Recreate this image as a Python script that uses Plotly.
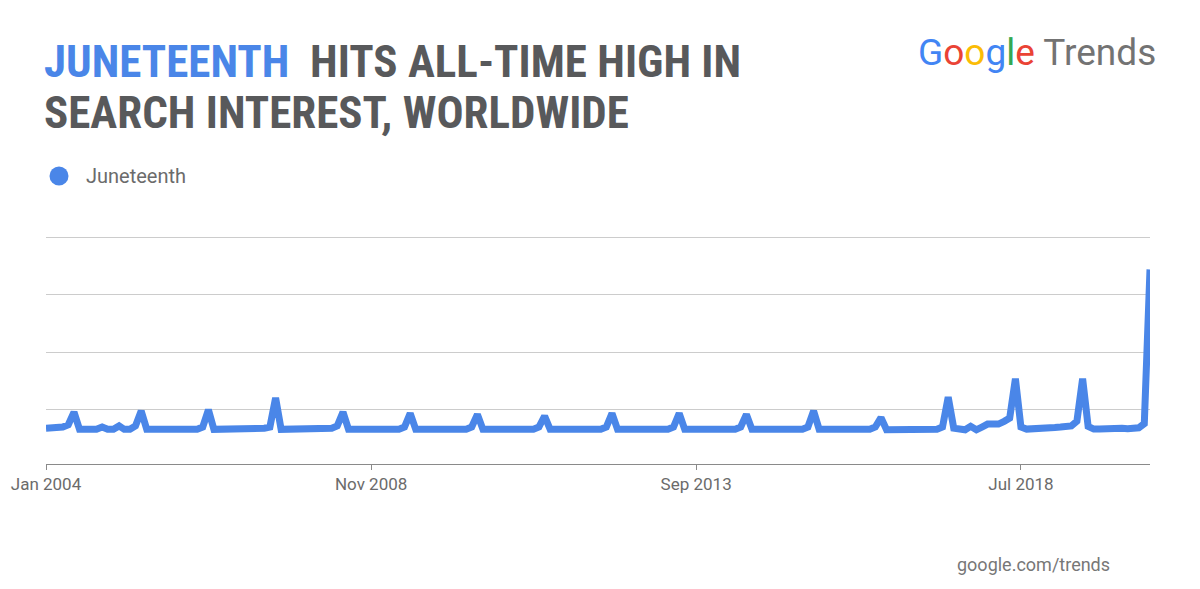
import pandas as pd
import plotly.graph_objects as go

# ---------------- data ----------------
start_month = "2004-01-01"
interest_2004 = [17, 17, 17, 17.5, 18.5, 24, 16.5, 16.5, 16.5, 16.5, 17.5, 16.5]
interest_2005 = [16.5, 18, 16.5, 16.5, 18, 24.5, 16.5, 16.5, 16.5, 16.5, 16.5, 16.5]
interest_2006 = [16.5, 16.5, 16.5, 16.5, 17.5, 25, 16.5, 16.5, 16.5, 16.5, 16.5, 16.5]
interest_2007 = [16.5, 16.5, 16.5, 17, 17.5, 30.2, 16.5, 16.5, 16.5, 16.5, 16.5, 16.5]
interest_2008 = [16.5, 17, 17, 17, 18, 24, 16.5, 16.5, 16.5, 16.5, 16.5, 16.5]
interest_2009 = [16.5, 16.5, 16.5, 16.5, 17.5, 23.4, 16.5, 16.5, 16.5, 16.5, 16.5, 16.5]
interest_2010 = [16.5, 16.5, 16.5, 16.5, 17.5, 23, 16.5, 16.5, 16.5, 16.5, 16.5, 16.5]
interest_2011 = [16.5, 16.5, 16.5, 16.5, 17.5, 22.3, 16.5, 16.5, 16.5, 16.5, 16.5, 16.5]
interest_2012 = [16.5, 16.5, 16.5, 16.5, 17.5, 23.4, 16.5, 16.5, 16.5, 16.5, 16.5, 16.5]
interest_2013 = [16.5, 16.5, 16.5, 16.5, 17.5, 23.4, 16.5, 16.5, 16.5, 16.5, 16.5, 16.5]
interest_2014 = [16.5, 16.5, 16.5, 16.5, 17.5, 23, 16.5, 16.5, 16.5, 16.5, 16.5, 16.5]
interest_2015 = [16.5, 16.5, 16.5, 16.5, 17.5, 24.5, 16.5, 16.5, 16.5, 16.5, 16.5, 16.5]
interest_2016 = [16.5, 16.5, 16.5, 16.5, 17.5, 21.6, 16.3, 16.3, 16.5, 16.5, 16.5, 16.5]
interest_2017 = [16.5, 16.5, 16.5, 16.5, 17.5, 30.5, 17, 16.3, 16.3, 17.8, 16.3, 17.5]
interest_2018 = [18.8, 18.8, 18.8, 20, 21.4, 38.5, 17.5, 16.6, 16.6, 16.8, 17, 17.2]
interest_2019 = [17.3, 17.5, 18, 18, 20, 38.5, 17.8, 16.6, 16.6, 16.8, 17, 17.2]
interest_2020 = [17, 16.8, 17.2, 17.2, 19, 86]

tick_dates = ["2004-01-01", "2008-11-01", "2013-09-01", "2018-07-01"]
tick_labels = ["Jan 2004", "Nov 2008", "Sep 2013", "Jul 2018"]
grid_values = [25, 50, 75, 100]
series_name = "Juneteenth"

interest = (interest_2004 + interest_2005 + interest_2006 + interest_2007 + interest_2008
            + interest_2009 + interest_2010 + interest_2011 + interest_2012 + interest_2013
            + interest_2014 + interest_2015 + interest_2016 + interest_2017 + interest_2018
            + interest_2019 + interest_2020)
months = pd.date_range(start_month, periods=len(interest), freq="MS")

# ---------------- layout constants ----------------
OFF = 8                     # default page body margin
W, H = 1200 - OFF, 589 - OFF
L, R, T, B = 46 - OFF, 50, 235 - OFF, 125
PW, PH = W - L - R, H - T - B

BLUE = "#4a86e8"
TITLE_GRAY = "#58595b"
TEXT_GRAY = "#6b6b6b"


def px_x(px):
    return (px - OFF - L) / PW


def px_y(py):
    return (H - B - (py - OFF)) / PH


fig = go.Figure()
fig.add_trace(go.Scatter(
    x=months, y=interest, mode="lines", name=series_name,
    line=dict(color=BLUE, width=7), showlegend=False, hoverinfo="skip",
))

title_font = "Roboto Condensed, Liberation Sans Narrow, DejaVu Sans Condensed, Roboto"

annotations = [
    dict(text=f"<b><span style='color:{BLUE}'>JUNETEENTH</span>&nbsp;&nbsp;HITS ALL-TIME HIGH IN</b>",
         x=px_x(42), y=px_y(61.5), xanchor="left", yanchor="middle",
         font=dict(family=title_font, size=45, color=TITLE_GRAY)),
    dict(text="<b>SEARCH INTEREST, WORLDWIDE</b>",
         x=px_x(42), y=px_y(112.5), xanchor="left", yanchor="middle",
         font=dict(family=title_font, size=45, color=TITLE_GRAY)),
    dict(text=series_name,
         x=px_x(84), y=px_y(176), xanchor="left", yanchor="middle",
         font=dict(family="Roboto", size=20, color=TEXT_GRAY)),
    dict(text=("<span style='color:#4285f4'>G</span><span style='color:#ea4335'>o</span>"
               "<span style='color:#fbbc05'>o</span><span style='color:#4285f4'>g</span>"
               "<span style='color:#34a853'>l</span><span style='color:#ea4335'>e</span>"
               " <span style='color:#737373'>Trends</span>"),
         x=px_x(1158), y=px_y(52), xanchor="right", yanchor="middle",
         font=dict(family="Roboto", size=37, color="#737373")),
    dict(text="google.com/trends",
         x=px_x(1112), y=px_y(564), xanchor="right", yanchor="middle",
         font=dict(family="Roboto", size=18, color="#777777")),
]
for a in annotations:
    a.update(xref="paper", yref="paper", showarrow=False)

fig.update_layout(
    width=W, height=H,
    margin=dict(l=L, r=R, t=T, b=B, pad=0, autoexpand=False),
    paper_bgcolor="white", plot_bgcolor="white",
    annotations=annotations,
    shapes=[dict(type="circle", xref="paper", yref="paper",
                 x0=px_x(49.5), x1=px_x(68.5), y0=px_y(185.5), y1=px_y(166.5),
                 fillcolor=BLUE, line=dict(width=0))],
    xaxis=dict(
        range=["2004-01-01", "2020-06-01"],
        tickvals=tick_dates, ticktext=tick_labels,
        showgrid=False, zeroline=False, automargin=False,
        showline=True, linecolor="#8a8a8a", linewidth=1,
        ticks="outside", ticklen=5, tickcolor="#8a8a8a",
        tickfont=dict(family="Roboto", size=17, color=TEXT_GRAY),
    ),
    yaxis=dict(
        range=[1.43, 101], tickvals=grid_values, showticklabels=False,
        showgrid=True, gridcolor="#cccccc", gridwidth=1, automargin=False,
        zeroline=False, showline=False, ticks="",
    ),
)

fig.write_html("out.html")
